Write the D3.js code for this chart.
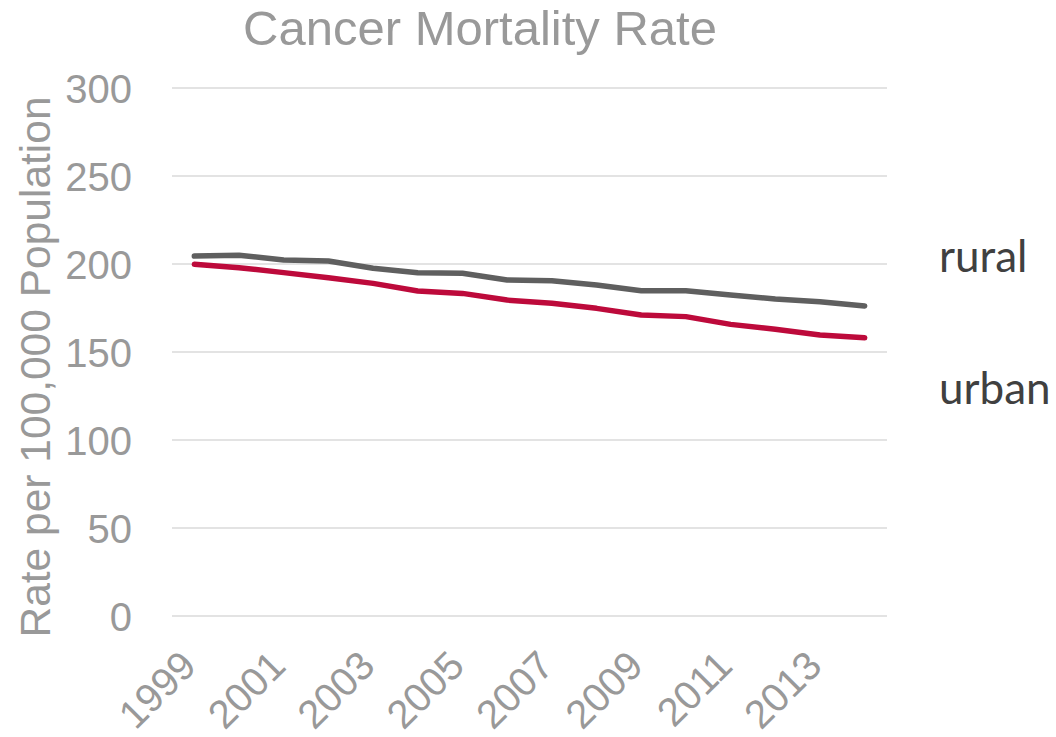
<!DOCTYPE html>
<html><head><meta charset="utf-8">
<script src="https://cdn.jsdelivr.net/npm/d3@7"></script>
<style>body{margin:0;background:#fff}svg{display:block}</style>
</head><body>
<script>
const years = [1999,2000,2001,2002,2003,2004,2005,2006,2007,2008,2009,2010,2011,2012,2013,2014];
const rural = [204.5,205,202.3,201.7,197.6,195.0,194.7,190.9,190.5,188.1,184.8,184.8,182.4,180.1,178.6,176.1];
const urban = [199.8,197.9,195.1,192.2,189.0,184.7,183.3,179.5,177.7,174.8,171.0,170.1,165.7,162.9,159.7,158.1];
const yTicks = [0,50,100,150,200,250,300];
const xTickLabels = [1999,2001,2003,2005,2007,2009,2011,2013];
const seriesNames = ["rural","urban"];

(function(){
const W=1056,H=737;
const svg=d3.select("body").append("svg").attr("width",W).attr("height",H);
const pL=172,pR=887,pT=88,pB=616;
const x=d3.scaleBand().domain(years).range([pL,pR]);
const y=d3.scaleLinear().domain([0,300]).range([pB,pT]);
const gray="#999999";
const font="'Liberation Sans', Arial, sans-serif";

svg.append("g").selectAll("line").data(yTicks).join("line")
  .attr("x1",pL).attr("x2",pR).attr("y1",d=>y(d)).attr("y2",d=>y(d))
  .attr("stroke","#e3e3e3").attr("stroke-width",2);

const ya=svg.append("g").attr("transform",`translate(${pL-40},0)`)
  .call(d3.axisLeft(y).tickValues(yTicks).tickSize(0).tickPadding(0));
ya.select(".domain").remove();
ya.selectAll("text").attr("font-family",font).attr("font-size",40).attr("fill",gray).attr("dy","0.35em");

const xa=svg.append("g").attr("transform",`translate(0,${pB})`)
  .call(d3.axisBottom(x).tickValues(xTickLabels).tickSize(0).tickPadding(0));
xa.select(".domain").remove();
xa.selectAll("text").attr("font-family",font).attr("font-size",40).attr("fill",gray)
  .attr("text-anchor","end").attr("dy",null).attr("y",null)
  .attr("transform","translate(4,52) rotate(-45)");

svg.append("text").attr("transform",`translate(50,367) rotate(-90)`)
  .attr("text-anchor","middle").attr("font-family",font).attr("font-size",42.5).attr("fill",gray)
  .text("Rate per 100,000 Population");

svg.append("text").attr("x",480).attr("y",45).attr("text-anchor","middle")
  .attr("font-family",font).attr("font-size",49).attr("fill",gray).text("Cancer Mortality Rate");

const cx=d=>x(d)+x.bandwidth()/2;
const line=d3.line().x((d,i)=>cx(years[i])).y(d=>y(d));
svg.append("path").datum(rural).attr("d",line).attr("fill","none").attr("stroke","#5f5f5f")
  .attr("stroke-width",5.5).attr("stroke-linecap","round").attr("stroke-linejoin","round");
svg.append("path").datum(urban).attr("d",line).attr("fill","none").attr("stroke","#bd0a3b")
  .attr("stroke-width",5.5).attr("stroke-linecap","round").attr("stroke-linejoin","round");

svg.append("text").attr("x",939).attr("y",272).attr("font-family","Lato, 'Open Sans', sans-serif")
  .attr("font-size",44).attr("fill","#404040").text(seriesNames[0]);
svg.append("text").attr("x",939).attr("y",404).attr("font-family","Lato, 'Open Sans', sans-serif")
  .attr("font-size",44).attr("fill","#404040").text(seriesNames[1]);
})();
</script>
</body></html>
